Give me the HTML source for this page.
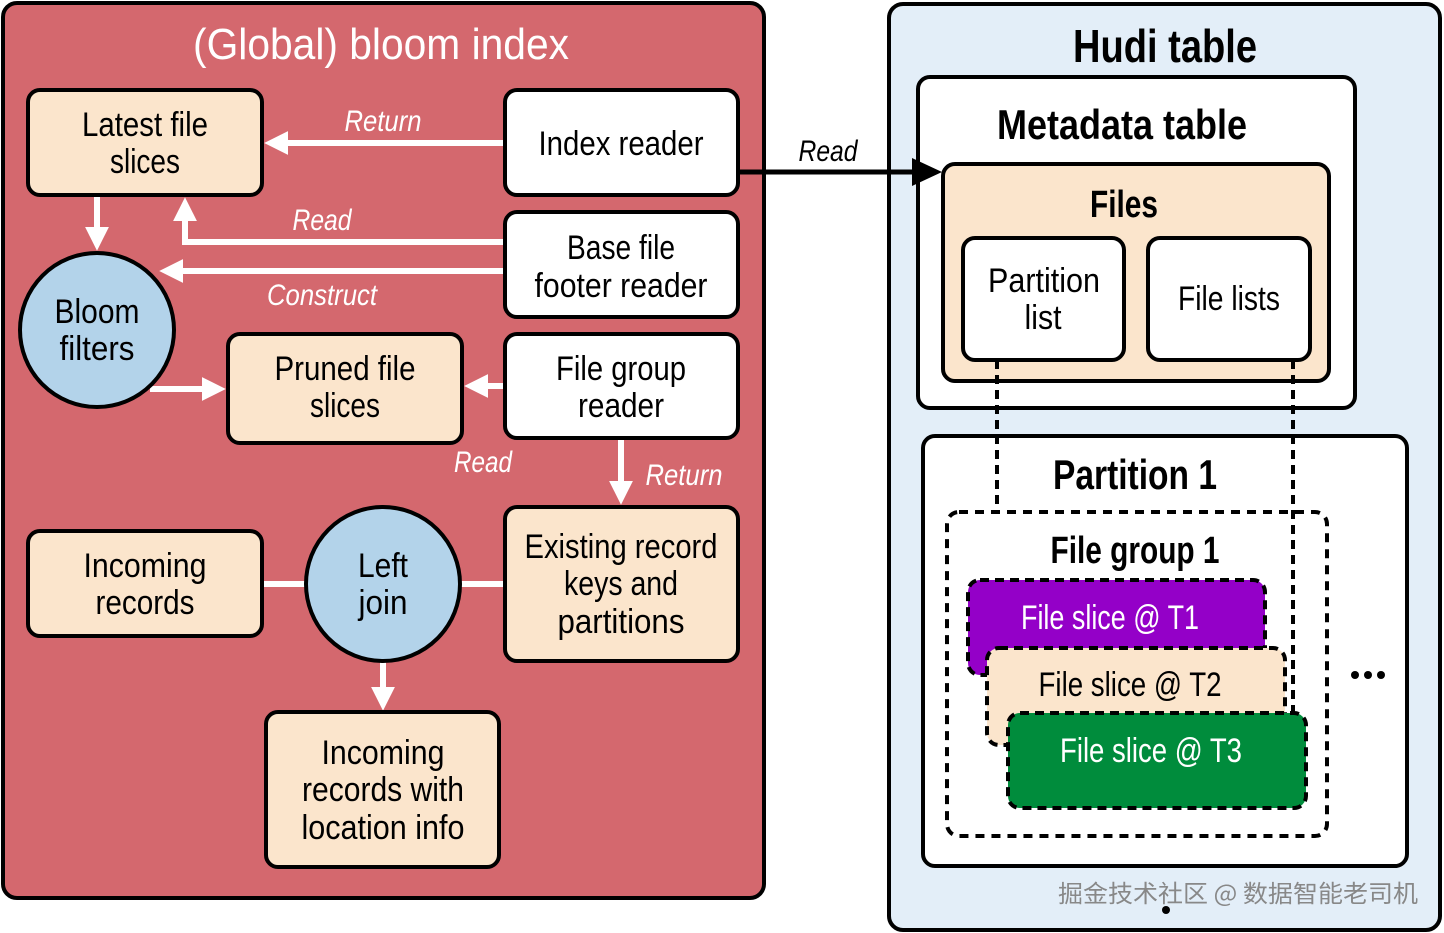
<!DOCTYPE html>
<html><head><meta charset="utf-8"><style>
body{margin:0;background:#fff}
svg{display:block}
text{font-family:"Liberation Sans",sans-serif;text-anchor:middle}
</style></head><body>
<svg width="1444" height="933" viewBox="0 0 1444 933" xmlns="http://www.w3.org/2000/svg">
<defs>
<marker id="wa" markerWidth="4" markerHeight="4" refX="2.2" refY="2" orient="auto" markerUnits="strokeWidth"><path d="M0,0 L4,2 L0,4 z" fill="#fff"/></marker>
</defs>
<rect x="3" y="3" width="761" height="895" rx="14" fill="#d4686e" stroke="#000" stroke-width="4"/>
<text x="381" y="59" font-size="44" fill="#fff" textLength="376" lengthAdjust="spacingAndGlyphs">(Global) bloom index</text>

<g stroke="#fff" stroke-width="6" fill="none">
<line x1="505" y1="143" x2="275" y2="143" marker-end="url(#wa)"/>
<polyline points="505,242 185,242 185,208" marker-end="url(#wa)"/>
<line x1="505" y1="271" x2="170" y2="271" marker-end="url(#wa)"/>
<line x1="97" y1="196" x2="97" y2="240" marker-end="url(#wa)"/>
<line x1="150" y1="389" x2="215" y2="389" marker-end="url(#wa)"/>
<line x1="505" y1="386" x2="475" y2="386" marker-end="url(#wa)"/>
<line x1="621" y1="438" x2="621" y2="494" marker-end="url(#wa)"/>
<line x1="262" y1="584" x2="306" y2="584"/>
<line x1="460" y1="584" x2="505" y2="584"/>
<line x1="383" y1="662" x2="383" y2="700" marker-end="url(#wa)"/>
</g>
<g font-size="30" font-style="italic" fill="#fff" lengthAdjust="spacingAndGlyphs">
<text x="383" y="131" textLength="77" lengthAdjust="spacingAndGlyphs">Return</text>
<text x="322" y="230" textLength="59" lengthAdjust="spacingAndGlyphs">Read</text>
<text x="322" y="305" textLength="110" lengthAdjust="spacingAndGlyphs">Construct</text>
<text x="483" y="472" textLength="58" lengthAdjust="spacingAndGlyphs">Read</text>
<text x="684" y="485" textLength="77" lengthAdjust="spacingAndGlyphs">Return</text>
</g>

<g stroke="#000" stroke-width="4">
<rect x="28" y="90" width="234" height="105" rx="12" fill="#fbe5cc"/>
<rect x="505" y="90" width="233" height="105" rx="12" fill="#fff"/>
<rect x="505" y="212" width="233" height="105" rx="12" fill="#fff"/>
<rect x="505" y="334" width="233" height="104" rx="12" fill="#fff"/>
<rect x="228" y="334" width="234" height="109" rx="12" fill="#fbe5cc"/>
<circle cx="97" cy="330" r="77" fill="#b3d3ea"/>
<rect x="28" y="531" width="234" height="105" rx="12" fill="#fbe5cc"/>
<circle cx="383" cy="584" r="77" fill="#b3d3ea"/>
<rect x="505" y="507" width="233" height="154" rx="12" fill="#fbe5cc"/>
<rect x="266" y="712" width="233" height="155" rx="12" fill="#fbe5cc"/>
</g>
<g font-size="34" fill="#000">
<text x="145" y="136" textLength="126" lengthAdjust="spacingAndGlyphs">Latest file</text><text x="145" y="173" textLength="70" lengthAdjust="spacingAndGlyphs">slices</text>
<text x="621" y="155" textLength="165" lengthAdjust="spacingAndGlyphs">Index reader</text>
<text x="621" y="259" textLength="108" lengthAdjust="spacingAndGlyphs">Base file</text><text x="621" y="297" textLength="173" lengthAdjust="spacingAndGlyphs">footer reader</text>
<text x="621" y="380" textLength="130" lengthAdjust="spacingAndGlyphs">File group</text><text x="621" y="417" textLength="86" lengthAdjust="spacingAndGlyphs">reader</text>
<text x="345" y="380" textLength="141" lengthAdjust="spacingAndGlyphs">Pruned file</text><text x="345" y="417" textLength="70" lengthAdjust="spacingAndGlyphs">slices</text>
<text x="97" y="323" textLength="85" lengthAdjust="spacingAndGlyphs">Bloom</text><text x="97" y="360" textLength="75" lengthAdjust="spacingAndGlyphs">filters</text>
<text x="145" y="577" textLength="123" lengthAdjust="spacingAndGlyphs">Incoming</text><text x="145" y="614" textLength="99" lengthAdjust="spacingAndGlyphs">records</text>
<text x="383" y="577" textLength="50" lengthAdjust="spacingAndGlyphs">Left</text><text x="383" y="614" textLength="49" lengthAdjust="spacingAndGlyphs">join</text>
<text x="621" y="558" textLength="193" lengthAdjust="spacingAndGlyphs">Existing record</text><text x="621" y="595" textLength="114" lengthAdjust="spacingAndGlyphs">keys and</text><text x="621" y="633" textLength="127" lengthAdjust="spacingAndGlyphs">partitions</text>
<text x="383" y="764" textLength="123" lengthAdjust="spacingAndGlyphs">Incoming</text><text x="383" y="801" textLength="162" lengthAdjust="spacingAndGlyphs">records with</text><text x="383" y="839" textLength="163" lengthAdjust="spacingAndGlyphs">location info</text>
</g>

<rect x="889" y="4" width="551" height="926" rx="14" fill="#e3eef8" stroke="#000" stroke-width="4"/>
<text x="1165" y="62" font-size="46" font-weight="bold" textLength="184" lengthAdjust="spacingAndGlyphs">Hudi table</text>
<rect x="918" y="77" width="437" height="331" rx="12" fill="#fff" stroke="#000" stroke-width="4"/>
<text x="1122" y="139" font-size="42" font-weight="bold" textLength="250" lengthAdjust="spacingAndGlyphs">Metadata table</text>
<rect x="943" y="164" width="386" height="217" rx="12" fill="#fbe5cc" stroke="#000" stroke-width="4"/>
<text x="1124" y="217" font-size="38" font-weight="bold" textLength="68" lengthAdjust="spacingAndGlyphs">Files</text>
<rect x="963" y="238" width="161" height="122" rx="12" fill="#fff" stroke="#000" stroke-width="4"/>
<rect x="1148" y="238" width="162" height="122" rx="12" fill="#fff" stroke="#000" stroke-width="4"/>
<text x="1044" y="292" font-size="34" textLength="112" lengthAdjust="spacingAndGlyphs">Partition</text><text x="1043" y="329" font-size="34" textLength="37" lengthAdjust="spacingAndGlyphs">list</text>
<text x="1229" y="310" font-size="34" textLength="102" lengthAdjust="spacingAndGlyphs">File lists</text>

<rect x="923" y="436" width="484" height="430" rx="12" fill="#fff" stroke="#000" stroke-width="4"/>
<text x="1135" y="489" font-size="42" font-weight="bold" textLength="164" lengthAdjust="spacingAndGlyphs">Partition 1</text>
<rect x="947" y="512" width="380" height="324" rx="12" fill="none" stroke="#000" stroke-width="4" stroke-dasharray="9,7"/>
<text x="1135" y="563" font-size="38" font-weight="bold" textLength="169" lengthAdjust="spacingAndGlyphs">File group 1</text>
<g stroke="#000" stroke-width="4" stroke-dasharray="9,6">
<rect x="968" y="580" width="297" height="95" rx="12" fill="#9400c8"/>
<rect x="987" y="648" width="298" height="97" rx="12" fill="#fbe5cc"/>
<rect x="1008" y="713" width="298" height="95" rx="12" fill="#008c3c"/>
<line x1="997" y1="360" x2="997" y2="512" fill="none"/>
<line x1="1293" y1="360" x2="1293" y2="712" fill="none"/>
</g>
<text x="1110" y="629" font-size="34" fill="#fff" textLength="178" lengthAdjust="spacingAndGlyphs">File slice @ T1</text>
<text x="1130" y="696" font-size="34" fill="#000" textLength="183" lengthAdjust="spacingAndGlyphs">File slice @ T2</text>
<text x="1151" y="762" font-size="34" fill="#fff" textLength="182" lengthAdjust="spacingAndGlyphs">File slice @ T3</text>
<g fill="#000"><circle cx="1355" cy="675" r="4"/><circle cx="1368" cy="675" r="4"/><circle cx="1381" cy="675" r="4"/><circle cx="1166" cy="910" r="4"/></g>

<line x1="738" y1="172" x2="918" y2="172" stroke="#000" stroke-width="5"/>
<path d="M912,158 L942,172 L912,186 z" fill="#000"/>
<text x="828" y="161" font-size="30" font-style="italic" textLength="59" lengthAdjust="spacingAndGlyphs">Read</text>
<text x="1238" y="902" font-size="24" fill="#888" textLength="360" lengthAdjust="spacingAndGlyphs" style="font-family:'Noto Sans CJK SC',sans-serif">掘金技术社区 @ 数据智能老司机</text>
</svg>
</body></html>
